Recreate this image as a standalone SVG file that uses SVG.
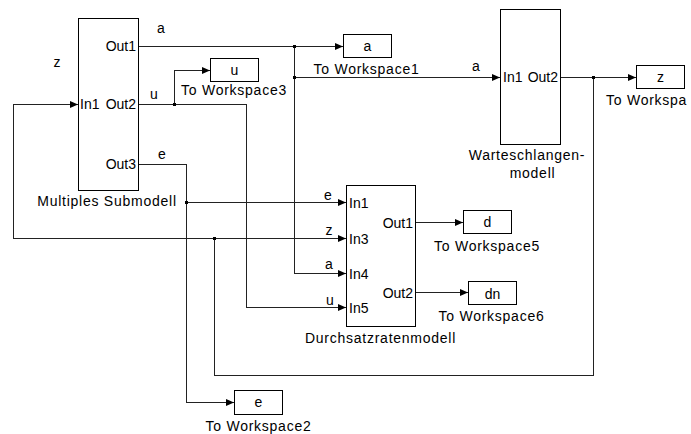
<svg xmlns="http://www.w3.org/2000/svg" width="691" height="434" viewBox="0 0 691 434">
<style>
text{font-family:"Liberation Sans",Arial,sans-serif;font-size:14px;fill:#000}
.lbl{letter-spacing:0.75px;text-anchor:middle}
.sig{text-anchor:middle}
.c{text-anchor:middle}
.r{text-anchor:end}
.blk{fill:#fff;stroke:#000;stroke-width:1}
.wire{fill:none;stroke:#222;stroke-width:1;shape-rendering:crispEdges}
.arr{fill:none;stroke:#222;stroke-width:1;shape-rendering:crispEdges;marker-end:url(#ah)}
.dot{fill:#000}
</style>
<defs>
<marker id="ah" markerUnits="userSpaceOnUse" markerWidth="9" markerHeight="8" refX="8" refY="3.5" orient="auto">
<path d="M0,0 L8,3.5 L0,7 z" fill="#000"/>
</marker>
</defs>
<rect width="691" height="434" fill="#fff"/>

<g id="connectors">
<path class="arr" d="M138.5,46.5 H343"/>
<path class="arr" d="M294.5,46.5 V273.5 H346"/>
<path class="arr" d="M294.5,77.5 H500"/>
<path class="arr" d="M138.5,104.5 H246.5 V307.5 H346"/>
<path class="arr" d="M174.5,104.5 V70.5 H210"/>
<path class="arr" d="M138.5,164.5 H186.5 V402.5 H234"/>
<path class="arr" d="M186.5,202.5 H346"/>
<path class="arr" d="M560.5,77.5 H636"/>
<path class="wire" d="M593.5,77.5 V375.5 H214.5 V238.5"/>
<path class="arr" d="M214.5,238.5 H346"/>
<path class="arr" d="M214.5,238.5 H13.5 V104.5 H78"/>
<path class="arr" d="M415.5,222.5 H463"/>
<path class="arr" d="M415.5,292.5 H468"/>
<rect class="dot" x="293" y="45" width="3" height="3"/>
<rect class="dot" x="293" y="76" width="3" height="3"/>
<rect class="dot" x="173" y="103" width="3" height="3"/>
<rect class="dot" x="185" y="201" width="3" height="3"/>
<rect class="dot" x="213" y="237" width="3" height="3"/>
<rect class="dot" x="592" y="76" width="3" height="3"/>
<text class="sig" x="161" y="32.5">a</text>
<text class="sig" x="57" y="67">z</text>
<text class="sig" x="154" y="98.5">u</text>
<text class="sig" x="162" y="159">e</text>
<text class="sig" x="476" y="71">a</text>
<text class="sig" x="328" y="199.5">e</text>
<text class="sig" x="329" y="235">z</text>
<text class="sig" x="329" y="269">a</text>
<text class="sig" x="330" y="304.5">u</text>
</g>

<g id="multiples-submodell">
<rect class="blk" x="78.5" y="18.5" width="60" height="172"/>
<text class="r" x="136" y="51">Out1</text>
<text x="80" y="109">In1</text>
<text class="r" x="136" y="109">Out2</text>
<text class="r" x="136" y="169">Out3</text>
<text class="lbl" x="107" y="206">Multiples Submodell</text>
</g>

<g id="to-workspace1">
<rect class="blk" x="343.5" y="34.5" width="48" height="23"/>
<text class="c" x="367.5" y="51">a</text>
<text class="lbl" x="366.5" y="74">To Workspace1</text>
</g>

<g id="to-workspace3">
<rect class="blk" x="210.5" y="58.5" width="48" height="23"/>
<text class="c" x="234.5" y="75">u</text>
<text class="lbl" x="234" y="95">To Workspace3</text>
</g>

<g id="warteschlangenmodell">
<rect class="blk" x="500.5" y="9.5" width="60" height="135"/>
<text x="503" y="82">In1</text>
<text class="r" x="558" y="82">Out2</text>
<text class="lbl" x="527" y="160">Warteschlangen-</text>
<text class="lbl" x="532.5" y="177.5">modell</text>
</g>

<g id="to-workspace-z">
<rect class="blk" x="636.5" y="65.5" width="48" height="23"/>
<text class="c" x="660.5" y="82">z</text>
<text x="606" y="104.5" style="letter-spacing:0.75px">To Workspa</text>
</g>

<g id="durchsatzratenmodell">
<rect class="blk" x="346.5" y="185.5" width="69" height="141"/>
<text x="349" y="207.5">In1</text>
<text x="349" y="243.5">In3</text>
<text x="349" y="278.5">In4</text>
<text x="349" y="312.5">In5</text>
<text class="r" x="413" y="227.5">Out1</text>
<text class="r" x="413" y="297.5">Out2</text>
<text class="lbl" x="380.5" y="342.5">Durchsatzratenmodell</text>
</g>

<g id="to-workspace5">
<rect class="blk" x="463.5" y="210.5" width="48" height="23"/>
<text class="c" x="487.5" y="227">d</text>
<text class="lbl" x="487" y="251">To Workspace5</text>
</g>

<g id="to-workspace6">
<rect class="blk" x="468.5" y="281.5" width="48" height="23"/>
<text class="c" x="492.5" y="299">dn</text>
<text class="lbl" x="491.5" y="321">To Workspace6</text>
</g>

<g id="to-workspace2">
<rect class="blk" x="234.5" y="390.5" width="48" height="24"/>
<text class="c" x="258.5" y="407">e</text>
<text class="lbl" x="258.5" y="431">To Workspace2</text>
</g>
</svg>
